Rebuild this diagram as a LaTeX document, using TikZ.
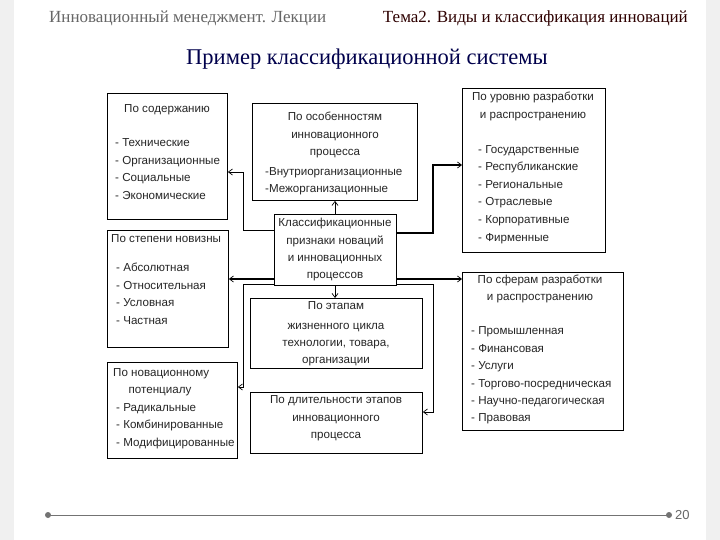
\documentclass[tikz,border=0pt]{standalone}
\usepackage{fontspec}
\setmainfont{Liberation Sans}
\newfontfamily\serifx{Liberation Serif}
\usetikzlibrary{arrows.meta}
\begin{document}
\begin{tikzpicture}[x=1pt,y=-1pt,
  box/.style={draw=black,line width=0.9pt,fill=white,inner sep=0,anchor=north west},
  tx/.style={font=\fontsize{11.6}{13}\selectfont,inner sep=0,text=black!85,text height=8.5,text depth=2.5},
  lt/.style={tx,anchor=west},
  ct/.style={tx,anchor=center},
  con/.style={line width=0.7pt,-{Straight Barb[length=4pt,width=6pt]}},
  thk/.style={line width=1.6pt,-{Straight Barb[length=4pt,width=6pt,line width=0.7pt]}}]
\useasboundingbox (0,0) rectangle (720,540);
\fill[gray!12] (0,0) rectangle (720,540);
\fill[white] (14,0) rectangle (706,540);
% header
\node[font=\serifx\fontsize{17}{19}\selectfont,text=black!60,anchor=west,inner sep=0] (h1) at (49,18) {Инновационный менеджмент. Лекции};
\node[font=\serifx\fontsize{17}{19}\selectfont,text=black!70!red!60!black,anchor=east,inner sep=0] (h2) at (688,18) {Тема2. Виды и классификация инноваций};
\node[font=\serifx\fontsize{22.5}{24}\selectfont,text=blue!30!black,inner sep=0] (ttl) at (367,59) {Пример классификационной системы};
% footer
\draw[black!55,line width=0.8pt] (48,515) -- (669,515);
\fill[black!55] (48,515) circle (3) (669,515) circle (3);
\node[font=\fontsize{13}{15}\selectfont,text=black!60,anchor=west,inner sep=0] (pg) at (675,515) {20};
% diagram area
\fill[white] (105,70) rectangle (655,458);
% boxes
\node[box,minimum width=120,minimum height=126] (b1) at (107,93) {};
\node[box,minimum width=165,minimum height=97] (b2) at (252,103) {};
\node[box,minimum width=121,minimum height=117] (b3) at (107,230) {};
\node[box,minimum width=130,minimum height=96] (b4) at (107,362) {};
\node[box,minimum width=172,minimum height=70] (b5) at (250,298) {};
\node[box,minimum width=172,minimum height=61] (b6) at (250,392) {};
\node[box,minimum width=143,minimum height=164] (b7) at (462,88) {};
\node[box,minimum width=161,minimum height=158] (b8) at (462,272) {};
% connectors
\coordinate (j1) at (243,230); \coordinate (j2) at (243,172);
\draw[con] (274,230) -- (j1) -- (j2) -- (b1.east |- j2);
\draw[con] (335,214) -- (b2.south -| 335,0);
\draw[thk] (274,279) -- (b3.east |- 0,279);
\coordinate (j3) at (433,233); \coordinate (j4) at (433,165);
\draw[thk] (396,233) -- (j3) -- (j4) -- (b7.west |- j4);
\draw[thk] (396,279) -- (b8.west |- 0,279);
\coordinate (j5) at (243,284); \coordinate (j6) at (433,284);
\coordinate (j7) at (243,387); \coordinate (j8) at (433,412);
\draw[line width=0.7pt] (j5) -- (j6);
\draw[con] (j5) -- (j7) -- (b4.east |- j7);
\draw[con] (j6) -- (j8) -- (b6.east |- j8);
\draw[con] (335,285) -- (b5.north -| 335,0);
\node[box,minimum width=122,minimum height=71] (c) at (274,214) {};
% texts
\node[ct] (t1) at (167,110) {По содержанию};
\foreach \s/\y [count=\i] in {Технические/144,Организационные/161.5,Социальные/179,Экономические/197}
  \node[lt] (t1\i) at (115,\y) {- \s};
\foreach \s/\y [count=\i] in {По особенностям/118,инновационного/135.5,процесса/153}
  \node[ct] (t2\i) at (335,\y) {\s};
\node[lt] (t24) at (265,173) {-Внутриорганизационные};
\node[lt] (t25) at (265,190) {-Межорганизационные};
\foreach \s/\y [count=\i] in {Классификационные/223,признаки новаций/241,и инновационных/258,процессов/275}
  \node[ct] (tc\i) at (335,\y) {\s};
\node[lt] (t3) at (111,240) {По степени новизны};
\foreach \s/\y [count=\i] in {Абсолютная/268,Относительная/286,Условная/303,Частная/321}
  \node[lt] (t3\i) at (116,\y) {- \s};
\node[lt] (t4) at (113,373) {По новационному};
\node[ct] (t40) at (160,390) {потенциалу};
\foreach \s/\y [count=\i] in {Радикальные/408,Комбинированные/425,Модифицированные/443}
  \node[lt] (t4\i) at (116,\y) {- \s};
\foreach \s/\y [count=\i] in {По этапам/306,жизненного цикла/326,{технологии, товара,}/343,организации/360}
  \node[ct] (t5\i) at (336,\y) {\s};
\foreach \s/\y [count=\i] in {По длительности этапов/400,инновационного/418,процесса/435}
  \node[ct] (t6\i) at (336,\y) {\s};
\node[ct] (t70) at (533,98) {По уровню разработки};
\node[ct] (t71) at (533,116) {и распространению};
\foreach \s/\y [count=\i] in {Государственные/151,Республиканские/168,Региональные/186,Отраслевые/203,Корпоративные/220,Фирменные/238}
  \node[lt] (t7\i) at (478,\y) {- \s};
\node[ct] (t80) at (540,280) {По сферам разработки};
\node[ct] (t81) at (540,297) {и распространению};
\foreach \s/\y [count=\i] in {Промышленная/331,Финансовая/349,Услуги/366,Торгово-посредническая/384,Научно-педагогическая/401,Правовая/418}
  \node[lt] (t8\i) at (471,\y) {- \s};
\end{tikzpicture}
\end{document}
